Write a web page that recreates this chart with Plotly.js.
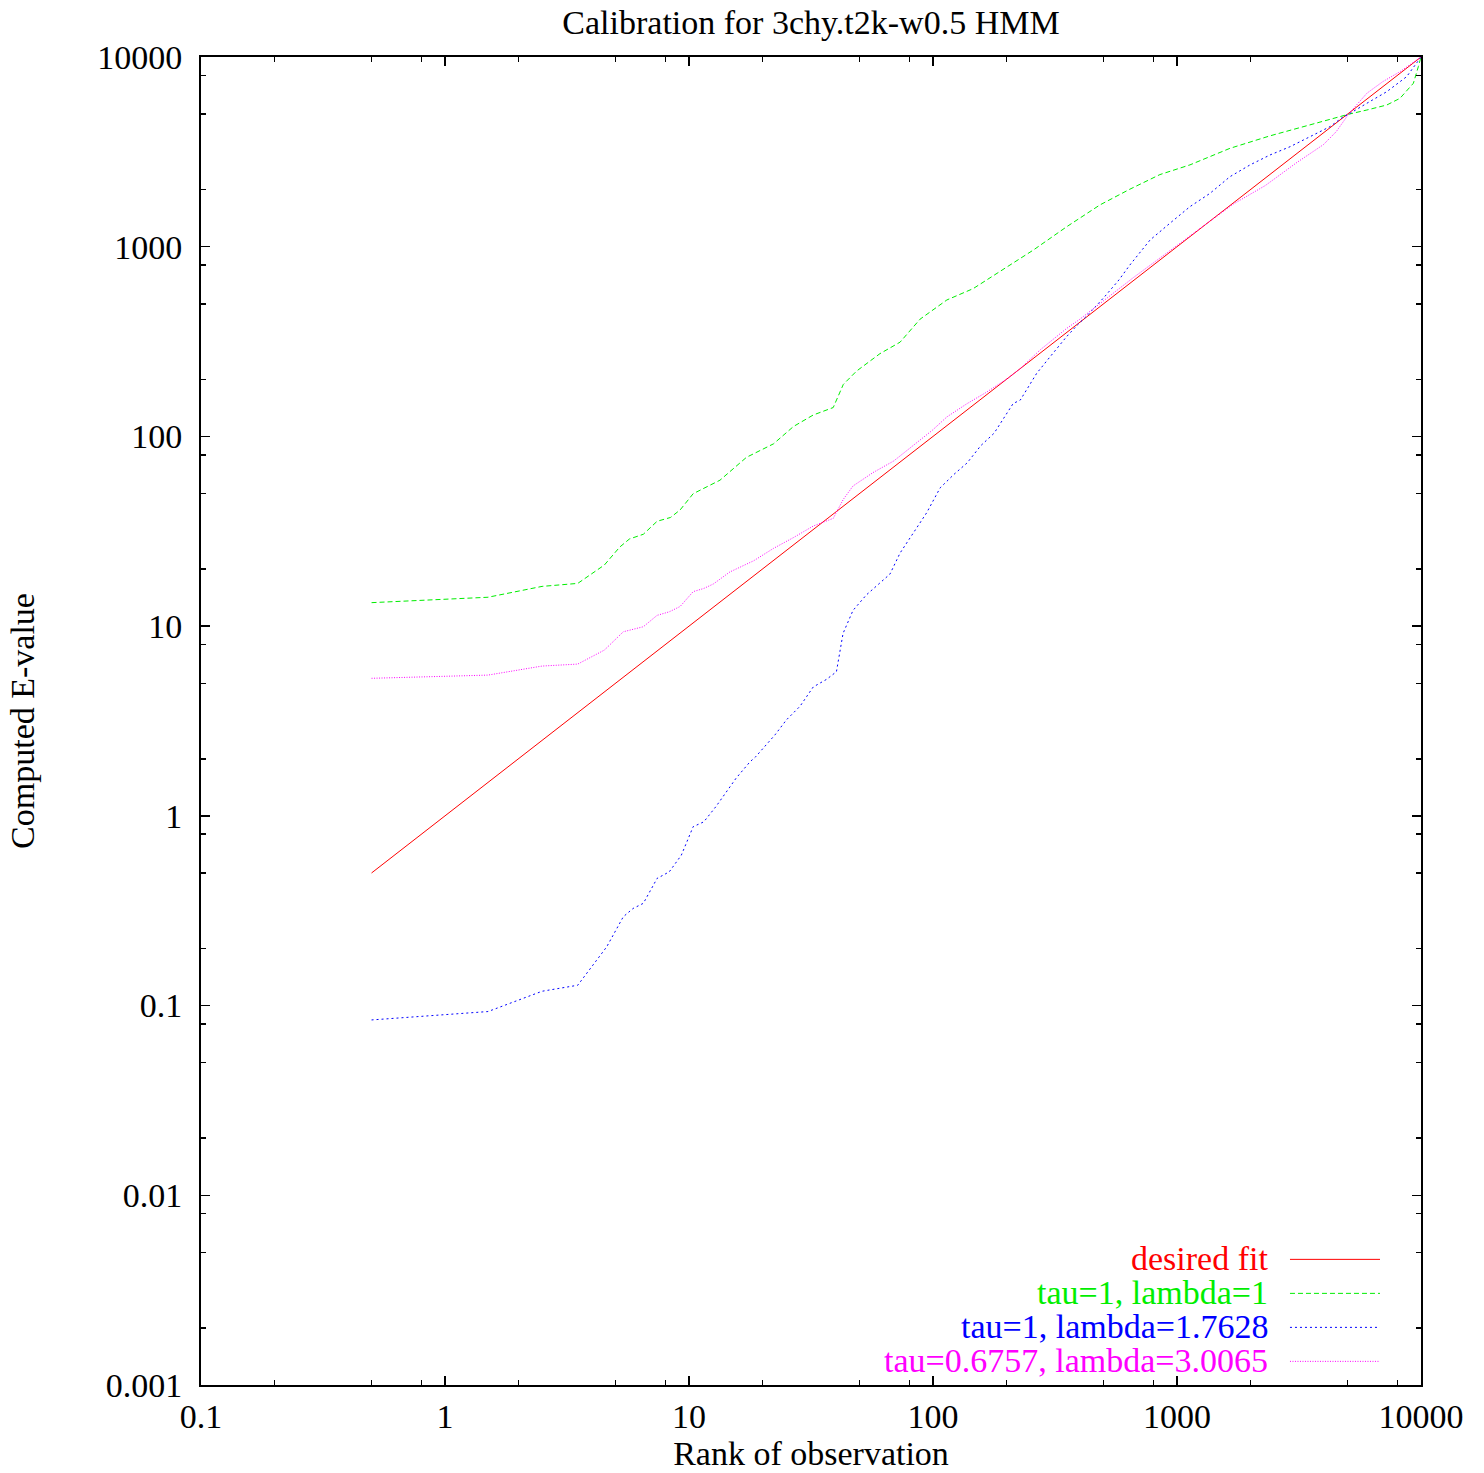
<!DOCTYPE html>
<html>
<head>
<meta charset="utf-8">
<script src="https://cdn.plot.ly/plotly-3.0.1.min.js"></script>
<style>html,body{margin:0;padding:0;background:#fff;}#chart{width:1484px;height:1473px;}</style>
</head>
<body>
<div id="chart"></div>
<script>
// ---- data ----
const fitX = [0.5, 10000];
const fitY = [0.5, 10000];

const greenX = [0.5, 1.5, 2.5, 3.5, 4.5, 5.2, 5.7, 6.5, 7.4, 8.4, 9.2, 10.4, 13.4, 17.2, 22.2, 26.8, 32.3, 39, 42.9, 48.6, 60.6, 73.3, 88.5, 114, 146, 188, 228, 258, 353, 483, 641, 851, 1130, 1648, 2404, 3508, 4650, 5044, 6000, 7244, 8200, 9306, 9750, 10000];
const greenY = [13.3, 14.2, 16.2, 16.8, 21, 26.1, 28.8, 30.5, 35.7, 37.4, 41, 49.9, 58.8, 77.6, 91.4, 112.8, 129.7, 142, 188, 221, 273, 314, 415, 524, 601, 741, 871, 961, 1274, 1660, 2010, 2400, 2700, 3300, 3840, 4400, 4860, 4990, 5256, 5585, 6055, 7271, 8890, 10000];

const blueX = [0.5, 1.5, 2.5, 3.5, 4.19, 4.6, 5.38, 5.9, 6.5, 7.4, 8.3, 9.3, 10.4, 11.5, 12.9, 14.7, 15.6, 17.8, 18.7, 22.5, 25.1, 28.5, 32.3, 36.6, 40.2, 42.8, 47, 53.3, 60.6, 66.6, 73.3, 82.9, 94.2, 107, 121.7, 138, 157, 178, 213, 228, 266, 302, 353, 391, 430, 505, 578, 641, 775, 935, 1130, 1365, 1648, 1991, 2404, 2904, 3508, 4237, 4808, 5044, 6000, 7244, 8733, 10000];
const blueY = [0.084, 0.093, 0.119, 0.128, 0.174, 0.204, 0.294, 0.325, 0.346, 0.468, 0.507, 0.62, 0.877, 0.93, 1.12, 1.43, 1.58, 1.93, 2.04, 2.67, 3.21, 3.78, 4.78, 5.24, 5.75, 9.16, 12.1, 14.6, 16.8, 18.8, 24.3, 30.7, 39.6, 53.6, 63, 72.5, 89.4, 104, 149, 155.6, 215, 263, 336, 387, 436, 545, 668, 801, 1084, 1329, 1626, 1911, 2339, 2698, 3044, 3365, 3802, 4295, 4842, 4990, 5703, 6566, 7877, 10000];

const magX = [0.5, 1.5, 2.5, 3.5, 4.5, 5.38, 6.5, 7.4, 8.3, 9.2, 10.4, 11.5, 12.6, 14.7, 18.4, 22.2, 26.8, 32.3, 39, 42.9, 47, 56.8, 69, 83, 99.3, 114, 138, 165.6, 202, 228, 275, 353, 400, 662, 985, 1702, 2300, 3100, 3980, 4500, 5044, 6000, 6972, 8200, 10000];
const magY = [5.31, 5.52, 6.16, 6.31, 7.48, 9.34, 9.93, 11.4, 11.9, 12.7, 15.2, 15.8, 16.7, 19.3, 22.1, 25.7, 29.3, 33.7, 37, 46.6, 54.8, 64.5, 74.2, 89.4, 107.7, 126.7, 149, 171, 202, 228, 286, 371, 415, 687, 1000, 1679, 2100, 2780, 3450, 4050, 4990, 6441, 7413, 8366, 10000];

const seriesNames = ["desired fit", "tau=1, lambda=1", "tau=1, lambda=1.7628", "tau=0.6757, lambda=3.0065"];
const seriesColors = ["#ff0000", "#00ee00", "#0000ff", "#ff00ff"];
const seriesDash = ["solid", "5px,3px", "2px,3px", "1px,1.5px"];

const xTickVals = [0.1, 1, 10, 100, 1000, 10000];
const xTickText = ["0.1", "1", "10", "100", "1000", "10000"];
const yTickVals = [0.001, 0.01, 0.1, 1, 10, 100, 1000, 10000];
const yTickText = ["0.001", "0.01", "0.1", "1", "10", "100", "1000", "10000"];
const minorDigits = [2, 5, 8];

const titleText = "Calibration for 3chy.t2k-w0.5 HMM";
const xTitle = "Rank of observation";
const yTitle = "Computed E-value";

// ---- build ----
function minorVals(decades) {
  const out = [];
  decades.forEach(d => minorDigits.forEach(m => out.push(m * d)));
  return out;
}

const xs = [fitX, greenX, blueX, magX];
const ys = [fitY, greenY, blueY, magY];
const traces = xs.map((x, i) => ({
  x: x, y: ys[i], type: "scatter", mode: "lines", name: seriesNames[i],
  showlegend: false,
  line: {color: seriesColors[i], width: 1, dash: seriesDash[i]}
}));

const FONT = "Liberation Serif, Times New Roman, serif";
const FS = 34;

const annotations = [];
const shapes = [];
const rowY = [0.0956, 0.0700, 0.0444, 0.0188];
seriesNames.forEach((n, i) => {
  annotations.push({
    xref: "paper", yref: "paper", x: 0.876, y: rowY[i],
    xanchor: "right", yanchor: "middle", text: n, showarrow: false,
    font: {family: FONT, size: FS, color: seriesColors[i]}
  });
  shapes.push({
    type: "line", xref: "paper", yref: "paper",
    x0: 0.8926, x1: 0.9664, y0: rowY[i] - 0.001, y1: rowY[i] - 0.001,
    line: {color: seriesColors[i], width: 1, dash: seriesDash[i]}
  });
});

const axisCommon = {
  type: "log", showgrid: false, zeroline: false,
  showline: true, linecolor: "#000", linewidth: 2, mirror: "allticks",
  ticks: "inside", ticklen: 9, tickwidth: 1.5, tickcolor: "#000",
  tickfont: {family: FONT, size: FS, color: "#000"},
  tickmode: "array"
};

const layout = {
  width: 1484, height: 1473,
  paper_bgcolor: "#fff", plot_bgcolor: "#fff",
  margin: {l: 201, r: 63, t: 57, b: 88},
  font: {family: FONT, size: FS, color: "#000"},
  title: {text: titleText, x: 0.5, xref: "paper", y: 1 - 22 / 1473, yref: "container",
          yanchor: "middle", font: {family: FONT, size: FS, color: "#000"}},
  xaxis: Object.assign({}, axisCommon, {
    range: [-1, 4], tickvals: xTickVals, ticktext: xTickText,
    minor: {tickmode: "array", tickvals: minorVals([0.1, 1, 10, 100, 1000]), ticks: "inside", ticklen: 5, tickwidth: 1.5, tickcolor: "#000"},
    title: {text: xTitle, font: {family: FONT, size: FS, color: "#000"}, standoff: 4}
  }),
  yaxis: Object.assign({}, axisCommon, {
    range: [-3, 4], tickvals: yTickVals, ticktext: yTickText,
    ticklabelstandoff: 10,
    minor: {tickmode: "array", tickvals: minorVals([0.001, 0.01, 0.1, 1, 10, 100, 1000]), ticks: "inside", ticklen: 5, tickwidth: 1.5, tickcolor: "#000"},
    title: {text: yTitle, font: {family: FONT, size: FS, color: "#000"}, standoff: 52}
  }),
  annotations: annotations,
  shapes: shapes
};

Plotly.newPlot("chart", traces, layout, {staticPlot: true, displayModeBar: false});
</script>
</body>
</html>
